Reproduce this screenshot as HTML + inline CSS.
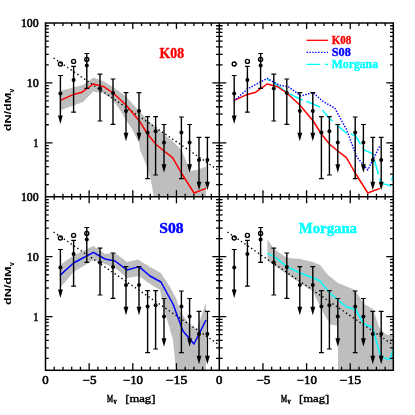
<!DOCTYPE html>
<html><head><meta charset="utf-8"><title>dN/dMV</title>
<style>html,body{margin:0;padding:0;background:#fff;width:415px;height:415px;overflow:hidden}
body{font-family:"Liberation Serif",serif;position:relative}</style></head>
<body>
<svg width="415" height="415" viewBox="0 0 415 415" style="position:absolute;left:0;top:0;will-change:transform">
<rect width="415" height="415" fill="#fff"/>
<defs>
<clipPath id="cTL"><rect x="45.5" y="23.0" width="173.8" height="173.8"/></clipPath>
<clipPath id="cTR"><rect x="219.3" y="23.0" width="174.0" height="173.8"/></clipPath>
<clipPath id="cBL"><rect x="45.5" y="196.8" width="173.8" height="173.5"/></clipPath>
<clipPath id="cBR"><rect x="219.3" y="196.8" width="174.0" height="173.5"/></clipPath>
</defs>
<g clip-path="url(#cTL)">
<polygon points="59.6,91.0 73.6,87.6 83.0,85.0 93.4,77.6 104.0,81.4 113.0,87.0 126.0,96.5 139.0,111.0 147.6,120.0 155.6,127.0 164.0,134.5 172.6,141.0 181.4,150.0 187.0,163.0 190.0,171.0 197.0,170.0 206.0,166.4 206.0,196.8 153.6,196.8 152.0,186.0 147.6,168.0 140.0,150.0 139.0,143.0 132.0,129.0 126.0,120.0 120.0,110.0 113.0,100.0 104.0,93.6 93.4,91.6 83.0,102.0 73.6,105.6 59.6,110.5" fill="#bebebe"/>
<polyline points="53.6,58.0 219.4,171.0" fill="none" stroke="#000" stroke-width="1.40" stroke-linejoin="round" stroke-dasharray="1.4 2.7"/>
<polyline points="60.4,100.4 73.6,94.4 82.0,92.2 93.4,84.0 104.0,86.8 113.0,93.0 126.0,105.0 139.4,121.0 147.6,134.0 155.6,144.0 164.0,151.0 172.6,157.6 181.4,173.0 194.0,193.0 206.0,188.4" fill="none" stroke="#ff0000" stroke-width="1.50" stroke-linejoin="round"/>
<path d="M60.4 75.5V117.9" stroke="#000" stroke-width="1.4"/>
<path d="M58.0 115.4L62.8 115.4L60.4 123.9Z" fill="#000"/>
<path d="M58.0 75.5H62.8" stroke="#000" stroke-width="1.2"/>
<circle cx="60.4" cy="93.6" r="2.0" fill="#000"/>
<circle cx="60.4" cy="64.0" r="2.0" fill="none" stroke="#000" stroke-width="1.4"/>
<path d="M73.6 66.4V112.2" stroke="#000" stroke-width="1.4"/>
<path d="M71.2 112.2H76.0" stroke="#000" stroke-width="1.2"/>
<path d="M71.2 66.4H76.0" stroke="#000" stroke-width="1.2"/>
<circle cx="73.6" cy="80.0" r="2.0" fill="#000"/>
<circle cx="73.6" cy="61.4" r="2.0" fill="none" stroke="#000" stroke-width="1.4"/>
<path d="M86.8 53.5V88.4" stroke="#000" stroke-width="1.4"/>
<path d="M84.4 88.4H89.2" stroke="#000" stroke-width="1.2"/>
<path d="M84.4 53.5H89.2" stroke="#000" stroke-width="1.2"/>
<circle cx="86.8" cy="65.5" r="2.0" fill="#000"/>
<circle cx="86.8" cy="59.4" r="2.0" fill="none" stroke="#000" stroke-width="1.4"/>
<path d="M100.0 74.2V121.0" stroke="#000" stroke-width="1.4"/>
<path d="M97.6 121.0H102.4" stroke="#000" stroke-width="1.2"/>
<path d="M97.6 74.2H102.4" stroke="#000" stroke-width="1.2"/>
<circle cx="100.0" cy="88.6" r="2.0" fill="#000"/>
<path d="M113.0 79.0V124.4" stroke="#000" stroke-width="1.4"/>
<path d="M110.6 124.4H115.4" stroke="#000" stroke-width="1.2"/>
<path d="M110.6 79.0H115.4" stroke="#000" stroke-width="1.2"/>
<circle cx="113.0" cy="93.0" r="2.0" fill="#000"/>
<path d="M126.0 92.6V135.3" stroke="#000" stroke-width="1.4"/>
<path d="M123.6 132.8L128.4 132.8L126.0 141.3Z" fill="#000"/>
<path d="M123.6 92.6H128.4" stroke="#000" stroke-width="1.2"/>
<circle cx="126.0" cy="111.0" r="2.0" fill="#000"/>
<path d="M139.0 92.6V135.3" stroke="#000" stroke-width="1.4"/>
<path d="M136.6 132.8L141.4 132.8L139.0 141.3Z" fill="#000"/>
<path d="M136.6 92.6H141.4" stroke="#000" stroke-width="1.2"/>
<circle cx="139.0" cy="111.0" r="2.0" fill="#000"/>
<path d="M147.6 116.6V178.6" stroke="#000" stroke-width="1.4"/>
<path d="M145.2 178.6H150.0" stroke="#000" stroke-width="1.2"/>
<path d="M145.2 116.6H150.0" stroke="#000" stroke-width="1.2"/>
<circle cx="147.6" cy="132.5" r="2.0" fill="#000"/>
<path d="M155.6 116.6V175.0" stroke="#000" stroke-width="1.4"/>
<path d="M153.2 175.0H158.0" stroke="#000" stroke-width="1.2"/>
<path d="M153.2 116.6H158.0" stroke="#000" stroke-width="1.2"/>
<circle cx="155.6" cy="131.2" r="2.0" fill="#000"/>
<path d="M164.0 124.5V166.7" stroke="#000" stroke-width="1.4"/>
<path d="M161.6 164.2L166.4 164.2L164.0 172.7Z" fill="#000"/>
<path d="M161.6 124.5H166.4" stroke="#000" stroke-width="1.2"/>
<circle cx="164.0" cy="142.4" r="2.0" fill="#000"/>
<path d="M181.4 117.0V178.6" stroke="#000" stroke-width="1.4"/>
<path d="M179.0 178.6H183.8" stroke="#000" stroke-width="1.2"/>
<path d="M179.0 117.0H183.8" stroke="#000" stroke-width="1.2"/>
<circle cx="181.4" cy="132.5" r="2.0" fill="#000"/>
<path d="M189.6 124.5V166.7" stroke="#000" stroke-width="1.4"/>
<path d="M187.2 164.2L192.0 164.2L189.6 172.7Z" fill="#000"/>
<path d="M187.2 124.5H192.0" stroke="#000" stroke-width="1.2"/>
<circle cx="189.6" cy="142.4" r="2.0" fill="#000"/>
<path d="M199.0 137.4V184.3" stroke="#000" stroke-width="1.4"/>
<path d="M196.6 181.8L201.4 181.8L199.0 190.3Z" fill="#000"/>
<path d="M196.6 137.4H201.4" stroke="#000" stroke-width="1.2"/>
<circle cx="199.0" cy="160.0" r="2.0" fill="#000"/>
<path d="M207.4 137.4V184.3" stroke="#000" stroke-width="1.4"/>
<path d="M205.0 181.8L209.8 181.8L207.4 190.3Z" fill="#000"/>
<path d="M205.0 137.4H209.8" stroke="#000" stroke-width="1.2"/>
<circle cx="207.4" cy="160.0" r="2.0" fill="#000"/>
</g>
<g clip-path="url(#cTR)">
<polyline points="267.4,79.4 274.0,82.6 287.0,92.6 300.0,99.0 313.0,104.0 320.0,107.0 329.0,118.0 338.0,126.0 346.5,133.0 355.4,135.5 364.0,150.0 372.5,153.5 380.0,180.0 383.0,183.6 390.0,185.6 393.3,175.0" fill="none" stroke="#00ffff" stroke-width="1.5" stroke-dasharray="14.9 4.0" stroke-dashoffset="11.8"/>
<polyline points="234.2,100.4 247.4,94.4 255.8,92.2 267.2,84.0 277.8,86.8 286.8,93.0 299.8,105.0 313.2,121.0 321.4,134.0 329.4,144.0 337.8,151.0 346.4,157.6 355.2,173.0 367.8,193.0 379.8,188.4" fill="none" stroke="#ff0000" stroke-width="1.50" stroke-linejoin="round"/>
<polyline points="233.8,101.4 247.4,89.0 267.2,78.4 278.8,85.0 288.8,87.0 300.8,96.0 312.8,92.6 323.8,102.0 334.8,108.0 341.8,121.0 346.8,130.0 350.8,141.0 356.8,157.0 367.8,170.0 379.8,146.0" fill="none" stroke="#0000ff" stroke-width="1.50" stroke-linejoin="round" stroke-dasharray="1.4 1.5"/>
<path d="M234.2 75.5V117.9" stroke="#000" stroke-width="1.4"/>
<path d="M231.8 115.4L236.6 115.4L234.2 123.9Z" fill="#000"/>
<path d="M231.8 75.5H236.6" stroke="#000" stroke-width="1.2"/>
<circle cx="234.2" cy="93.6" r="2.0" fill="#000"/>
<circle cx="234.2" cy="64.0" r="2.0" fill="none" stroke="#000" stroke-width="1.4"/>
<path d="M247.4 66.4V112.2" stroke="#000" stroke-width="1.4"/>
<path d="M245.0 112.2H249.8" stroke="#000" stroke-width="1.2"/>
<path d="M245.0 66.4H249.8" stroke="#000" stroke-width="1.2"/>
<circle cx="247.4" cy="80.0" r="2.0" fill="#000"/>
<circle cx="247.4" cy="61.4" r="2.0" fill="none" stroke="#000" stroke-width="1.4"/>
<path d="M260.6 53.5V88.4" stroke="#000" stroke-width="1.4"/>
<path d="M258.2 88.4H263.0" stroke="#000" stroke-width="1.2"/>
<path d="M258.2 53.5H263.0" stroke="#000" stroke-width="1.2"/>
<circle cx="260.6" cy="65.5" r="2.0" fill="#000"/>
<circle cx="260.6" cy="59.4" r="2.0" fill="none" stroke="#000" stroke-width="1.4"/>
<path d="M273.8 74.2V121.0" stroke="#000" stroke-width="1.4"/>
<path d="M271.4 121.0H276.2" stroke="#000" stroke-width="1.2"/>
<path d="M271.4 74.2H276.2" stroke="#000" stroke-width="1.2"/>
<circle cx="273.8" cy="88.6" r="2.0" fill="#000"/>
<path d="M286.8 79.0V124.4" stroke="#000" stroke-width="1.4"/>
<path d="M284.4 124.4H289.2" stroke="#000" stroke-width="1.2"/>
<path d="M284.4 79.0H289.2" stroke="#000" stroke-width="1.2"/>
<circle cx="286.8" cy="93.0" r="2.0" fill="#000"/>
<path d="M299.8 92.6V135.3" stroke="#000" stroke-width="1.4"/>
<path d="M297.4 132.8L302.2 132.8L299.8 141.3Z" fill="#000"/>
<path d="M297.4 92.6H302.2" stroke="#000" stroke-width="1.2"/>
<circle cx="299.8" cy="111.0" r="2.0" fill="#000"/>
<path d="M312.8 92.6V135.3" stroke="#000" stroke-width="1.4"/>
<path d="M310.4 132.8L315.2 132.8L312.8 141.3Z" fill="#000"/>
<path d="M310.4 92.6H315.2" stroke="#000" stroke-width="1.2"/>
<circle cx="312.8" cy="111.0" r="2.0" fill="#000"/>
<path d="M321.4 116.6V178.6" stroke="#000" stroke-width="1.4"/>
<path d="M319.0 178.6H323.8" stroke="#000" stroke-width="1.2"/>
<path d="M319.0 116.6H323.8" stroke="#000" stroke-width="1.2"/>
<circle cx="321.4" cy="132.5" r="2.0" fill="#000"/>
<path d="M329.4 116.6V175.0" stroke="#000" stroke-width="1.4"/>
<path d="M327.0 175.0H331.8" stroke="#000" stroke-width="1.2"/>
<path d="M327.0 116.6H331.8" stroke="#000" stroke-width="1.2"/>
<circle cx="329.4" cy="131.2" r="2.0" fill="#000"/>
<path d="M337.8 124.5V166.7" stroke="#000" stroke-width="1.4"/>
<path d="M335.4 164.2L340.2 164.2L337.8 172.7Z" fill="#000"/>
<path d="M335.4 124.5H340.2" stroke="#000" stroke-width="1.2"/>
<circle cx="337.8" cy="142.4" r="2.0" fill="#000"/>
<path d="M355.2 117.0V178.6" stroke="#000" stroke-width="1.4"/>
<path d="M352.8 178.6H357.6" stroke="#000" stroke-width="1.2"/>
<path d="M352.8 117.0H357.6" stroke="#000" stroke-width="1.2"/>
<circle cx="355.2" cy="132.5" r="2.0" fill="#000"/>
<path d="M363.4 124.5V166.7" stroke="#000" stroke-width="1.4"/>
<path d="M361.0 164.2L365.8 164.2L363.4 172.7Z" fill="#000"/>
<path d="M361.0 124.5H365.8" stroke="#000" stroke-width="1.2"/>
<circle cx="363.4" cy="142.4" r="2.0" fill="#000"/>
<path d="M372.8 137.4V184.3" stroke="#000" stroke-width="1.4"/>
<path d="M370.4 181.8L375.2 181.8L372.8 190.3Z" fill="#000"/>
<path d="M370.4 137.4H375.2" stroke="#000" stroke-width="1.2"/>
<circle cx="372.8" cy="160.0" r="2.0" fill="#000"/>
<path d="M381.2 137.4V184.3" stroke="#000" stroke-width="1.4"/>
<path d="M378.8 181.8L383.6 181.8L381.2 190.3Z" fill="#000"/>
<path d="M378.8 137.4H383.6" stroke="#000" stroke-width="1.2"/>
<circle cx="381.2" cy="160.0" r="2.0" fill="#000"/>
</g>
<g clip-path="url(#cBL)">
<polygon points="60.0,265.0 73.6,255.6 93.4,246.0 105.0,254.0 115.0,253.0 127.0,262.0 138.0,259.4 150.0,267.0 161.0,273.0 170.0,287.0 176.0,298.0 181.0,313.0 190.0,325.0 197.0,329.0 205.5,304.0 206.0,304.0 206.0,370.3 176.0,370.3 173.0,340.0 166.0,316.0 162.0,300.0 160.0,290.0 150.0,284.0 139.0,276.0 127.0,278.0 120.0,272.0 115.0,268.0 105.0,264.0 93.4,260.0 73.6,272.0 60.0,288.0" fill="#bebebe"/>
<polyline points="53.6,232.0 219.4,345.0" fill="none" stroke="#000" stroke-width="1.40" stroke-linejoin="round" stroke-dasharray="1.4 2.7"/>
<polyline points="60.0,275.4 73.6,263.0 93.4,252.4 105.0,259.0 115.0,261.0 127.0,270.0 139.0,266.6 150.0,276.0 161.0,282.0 168.0,295.0 173.0,304.0 177.0,315.0 183.0,331.0 194.0,344.0 206.0,320.0" fill="none" stroke="#0000ff" stroke-width="1.50" stroke-linejoin="round"/>
<path d="M60.4 249.5V291.9" stroke="#000" stroke-width="1.4"/>
<path d="M58.0 289.4L62.8 289.4L60.4 297.9Z" fill="#000"/>
<path d="M58.0 249.5H62.8" stroke="#000" stroke-width="1.2"/>
<circle cx="60.4" cy="267.6" r="2.0" fill="#000"/>
<circle cx="60.4" cy="238.0" r="2.0" fill="none" stroke="#000" stroke-width="1.4"/>
<path d="M73.6 240.4V286.2" stroke="#000" stroke-width="1.4"/>
<path d="M71.2 286.2H76.0" stroke="#000" stroke-width="1.2"/>
<path d="M71.2 240.4H76.0" stroke="#000" stroke-width="1.2"/>
<circle cx="73.6" cy="254.0" r="2.0" fill="#000"/>
<circle cx="73.6" cy="235.4" r="2.0" fill="none" stroke="#000" stroke-width="1.4"/>
<path d="M86.8 227.5V262.4" stroke="#000" stroke-width="1.4"/>
<path d="M84.4 262.4H89.2" stroke="#000" stroke-width="1.2"/>
<path d="M84.4 227.5H89.2" stroke="#000" stroke-width="1.2"/>
<circle cx="86.8" cy="239.5" r="2.0" fill="#000"/>
<circle cx="86.8" cy="233.4" r="2.0" fill="none" stroke="#000" stroke-width="1.4"/>
<path d="M100.0 248.2V295.0" stroke="#000" stroke-width="1.4"/>
<path d="M97.6 295.0H102.4" stroke="#000" stroke-width="1.2"/>
<path d="M97.6 248.2H102.4" stroke="#000" stroke-width="1.2"/>
<circle cx="100.0" cy="262.6" r="2.0" fill="#000"/>
<path d="M113.0 253.0V298.4" stroke="#000" stroke-width="1.4"/>
<path d="M110.6 298.4H115.4" stroke="#000" stroke-width="1.2"/>
<path d="M110.6 253.0H115.4" stroke="#000" stroke-width="1.2"/>
<circle cx="113.0" cy="267.0" r="2.0" fill="#000"/>
<path d="M126.0 266.6V309.3" stroke="#000" stroke-width="1.4"/>
<path d="M123.6 306.8L128.4 306.8L126.0 315.3Z" fill="#000"/>
<path d="M123.6 266.6H128.4" stroke="#000" stroke-width="1.2"/>
<circle cx="126.0" cy="285.0" r="2.0" fill="#000"/>
<path d="M139.0 266.6V309.3" stroke="#000" stroke-width="1.4"/>
<path d="M136.6 306.8L141.4 306.8L139.0 315.3Z" fill="#000"/>
<path d="M136.6 266.6H141.4" stroke="#000" stroke-width="1.2"/>
<circle cx="139.0" cy="285.0" r="2.0" fill="#000"/>
<path d="M147.6 290.6V352.6" stroke="#000" stroke-width="1.4"/>
<path d="M145.2 352.6H150.0" stroke="#000" stroke-width="1.2"/>
<path d="M145.2 290.6H150.0" stroke="#000" stroke-width="1.2"/>
<circle cx="147.6" cy="306.5" r="2.0" fill="#000"/>
<path d="M155.6 290.6V349.0" stroke="#000" stroke-width="1.4"/>
<path d="M153.2 349.0H158.0" stroke="#000" stroke-width="1.2"/>
<path d="M153.2 290.6H158.0" stroke="#000" stroke-width="1.2"/>
<circle cx="155.6" cy="305.2" r="2.0" fill="#000"/>
<path d="M164.0 298.5V340.7" stroke="#000" stroke-width="1.4"/>
<path d="M161.6 338.2L166.4 338.2L164.0 346.7Z" fill="#000"/>
<path d="M161.6 298.5H166.4" stroke="#000" stroke-width="1.2"/>
<circle cx="164.0" cy="316.4" r="2.0" fill="#000"/>
<path d="M181.4 291.0V352.6" stroke="#000" stroke-width="1.4"/>
<path d="M179.0 352.6H183.8" stroke="#000" stroke-width="1.2"/>
<path d="M179.0 291.0H183.8" stroke="#000" stroke-width="1.2"/>
<circle cx="181.4" cy="306.5" r="2.0" fill="#000"/>
<path d="M189.6 298.5V340.7" stroke="#000" stroke-width="1.4"/>
<path d="M187.2 338.2L192.0 338.2L189.6 346.7Z" fill="#000"/>
<path d="M187.2 298.5H192.0" stroke="#000" stroke-width="1.2"/>
<circle cx="189.6" cy="316.4" r="2.0" fill="#000"/>
<path d="M199.0 311.4V358.3" stroke="#000" stroke-width="1.4"/>
<path d="M196.6 355.8L201.4 355.8L199.0 364.3Z" fill="#000"/>
<path d="M196.6 311.4H201.4" stroke="#000" stroke-width="1.2"/>
<circle cx="199.0" cy="334.0" r="2.0" fill="#000"/>
<path d="M207.4 311.4V358.3" stroke="#000" stroke-width="1.4"/>
<path d="M205.0 355.8L209.8 355.8L207.4 364.3Z" fill="#000"/>
<path d="M205.0 311.4H209.8" stroke="#000" stroke-width="1.2"/>
<circle cx="207.4" cy="334.0" r="2.0" fill="#000"/>
</g>
<g clip-path="url(#cBR)">
<polygon points="267.4,239.4 274.0,249.0 287.0,258.0 300.0,259.0 313.0,262.0 320.0,265.0 328.0,275.0 338.0,283.0 346.5,286.5 355.0,290.0 364.0,304.0 373.0,309.0 379.0,327.0 385.0,334.0 393.3,336.0 393.3,370.3 338.0,370.3 338.0,325.6 331.0,325.0 325.0,316.0 321.0,308.0 315.0,296.0 313.0,291.0 300.0,283.0 287.0,274.0 274.0,265.0 267.4,261.0" fill="#bebebe"/>
<polyline points="227.4,232.0 393.2,345.0" fill="none" stroke="#000" stroke-width="1.40" stroke-linejoin="round" stroke-dasharray="1.4 2.7"/>
<polyline points="267.4,253.4 274.0,256.6 287.0,266.6 300.0,273.0 313.0,278.0 320.0,281.0 329.0,292.0 338.0,300.0 346.5,307.0 355.4,309.5 364.0,324.0 372.5,327.5 380.0,354.0 383.0,357.6 390.0,359.6 393.3,349.0" fill="none" stroke="#00ffff" stroke-width="1.50" stroke-linejoin="round"/>
<path d="M234.2 249.5V291.9" stroke="#000" stroke-width="1.4"/>
<path d="M231.8 289.4L236.6 289.4L234.2 297.9Z" fill="#000"/>
<path d="M231.8 249.5H236.6" stroke="#000" stroke-width="1.2"/>
<circle cx="234.2" cy="267.6" r="2.0" fill="#000"/>
<circle cx="234.2" cy="238.0" r="2.0" fill="none" stroke="#000" stroke-width="1.4"/>
<path d="M247.4 240.4V286.2" stroke="#000" stroke-width="1.4"/>
<path d="M245.0 286.2H249.8" stroke="#000" stroke-width="1.2"/>
<path d="M245.0 240.4H249.8" stroke="#000" stroke-width="1.2"/>
<circle cx="247.4" cy="254.0" r="2.0" fill="#000"/>
<circle cx="247.4" cy="235.4" r="2.0" fill="none" stroke="#000" stroke-width="1.4"/>
<path d="M260.6 227.5V262.4" stroke="#000" stroke-width="1.4"/>
<path d="M258.2 262.4H263.0" stroke="#000" stroke-width="1.2"/>
<path d="M258.2 227.5H263.0" stroke="#000" stroke-width="1.2"/>
<circle cx="260.6" cy="239.5" r="2.0" fill="#000"/>
<circle cx="260.6" cy="233.4" r="2.0" fill="none" stroke="#000" stroke-width="1.4"/>
<path d="M273.8 248.2V295.0" stroke="#000" stroke-width="1.4"/>
<path d="M271.4 295.0H276.2" stroke="#000" stroke-width="1.2"/>
<path d="M271.4 248.2H276.2" stroke="#000" stroke-width="1.2"/>
<circle cx="273.8" cy="262.6" r="2.0" fill="#000"/>
<path d="M286.8 253.0V298.4" stroke="#000" stroke-width="1.4"/>
<path d="M284.4 298.4H289.2" stroke="#000" stroke-width="1.2"/>
<path d="M284.4 253.0H289.2" stroke="#000" stroke-width="1.2"/>
<circle cx="286.8" cy="267.0" r="2.0" fill="#000"/>
<path d="M299.8 266.6V309.3" stroke="#000" stroke-width="1.4"/>
<path d="M297.4 306.8L302.2 306.8L299.8 315.3Z" fill="#000"/>
<path d="M297.4 266.6H302.2" stroke="#000" stroke-width="1.2"/>
<circle cx="299.8" cy="285.0" r="2.0" fill="#000"/>
<path d="M312.8 266.6V309.3" stroke="#000" stroke-width="1.4"/>
<path d="M310.4 306.8L315.2 306.8L312.8 315.3Z" fill="#000"/>
<path d="M310.4 266.6H315.2" stroke="#000" stroke-width="1.2"/>
<circle cx="312.8" cy="285.0" r="2.0" fill="#000"/>
<path d="M321.4 290.6V352.6" stroke="#000" stroke-width="1.4"/>
<path d="M319.0 352.6H323.8" stroke="#000" stroke-width="1.2"/>
<path d="M319.0 290.6H323.8" stroke="#000" stroke-width="1.2"/>
<circle cx="321.4" cy="306.5" r="2.0" fill="#000"/>
<path d="M329.4 290.6V349.0" stroke="#000" stroke-width="1.4"/>
<path d="M327.0 349.0H331.8" stroke="#000" stroke-width="1.2"/>
<path d="M327.0 290.6H331.8" stroke="#000" stroke-width="1.2"/>
<circle cx="329.4" cy="305.2" r="2.0" fill="#000"/>
<path d="M337.8 298.5V340.7" stroke="#000" stroke-width="1.4"/>
<path d="M335.4 338.2L340.2 338.2L337.8 346.7Z" fill="#000"/>
<path d="M335.4 298.5H340.2" stroke="#000" stroke-width="1.2"/>
<circle cx="337.8" cy="316.4" r="2.0" fill="#000"/>
<path d="M355.2 291.0V352.6" stroke="#000" stroke-width="1.4"/>
<path d="M352.8 352.6H357.6" stroke="#000" stroke-width="1.2"/>
<path d="M352.8 291.0H357.6" stroke="#000" stroke-width="1.2"/>
<circle cx="355.2" cy="306.5" r="2.0" fill="#000"/>
<path d="M363.4 298.5V340.7" stroke="#000" stroke-width="1.4"/>
<path d="M361.0 338.2L365.8 338.2L363.4 346.7Z" fill="#000"/>
<path d="M361.0 298.5H365.8" stroke="#000" stroke-width="1.2"/>
<circle cx="363.4" cy="316.4" r="2.0" fill="#000"/>
<path d="M372.8 311.4V358.3" stroke="#000" stroke-width="1.4"/>
<path d="M370.4 355.8L375.2 355.8L372.8 364.3Z" fill="#000"/>
<path d="M370.4 311.4H375.2" stroke="#000" stroke-width="1.2"/>
<circle cx="372.8" cy="334.0" r="2.0" fill="#000"/>
<path d="M381.2 311.4V358.3" stroke="#000" stroke-width="1.4"/>
<path d="M378.8 355.8L383.6 355.8L381.2 364.3Z" fill="#000"/>
<path d="M378.8 311.4H383.6" stroke="#000" stroke-width="1.2"/>
<circle cx="381.2" cy="334.0" r="2.0" fill="#000"/>
</g>
<g stroke="#000" stroke-width="1.5" fill="none" stroke-linecap="butt">
<rect x="45.5" y="23.0" width="347.8" height="347.3"/>
<path d="M219.3 23.0V370.3 M45.5 196.8H393.3"/>
<path d="M54.23 23.0v3.0 M54.23 193.8v6.0 M54.23 370.3v-3.5 M62.96 23.0v3.0 M62.96 193.8v6.0 M62.96 370.3v-3.5 M71.69 23.0v3.0 M71.69 193.8v6.0 M71.69 370.3v-3.5 M80.42 23.0v3.0 M80.42 193.8v6.0 M80.42 370.3v-3.5 M89.15 23.0v6.0 M89.15 190.3v13.0 M89.15 370.3v-7.0 M97.88 23.0v3.0 M97.88 193.8v6.0 M97.88 370.3v-3.5 M106.61 23.0v3.0 M106.61 193.8v6.0 M106.61 370.3v-3.5 M115.34 23.0v3.0 M115.34 193.8v6.0 M115.34 370.3v-3.5 M124.07 23.0v3.0 M124.07 193.8v6.0 M124.07 370.3v-3.5 M132.80 23.0v6.0 M132.80 190.3v13.0 M132.80 370.3v-7.0 M141.53 23.0v3.0 M141.53 193.8v6.0 M141.53 370.3v-3.5 M150.26 23.0v3.0 M150.26 193.8v6.0 M150.26 370.3v-3.5 M158.99 23.0v3.0 M158.99 193.8v6.0 M158.99 370.3v-3.5 M167.72 23.0v3.0 M167.72 193.8v6.0 M167.72 370.3v-3.5 M176.45 23.0v6.0 M176.45 190.3v13.0 M176.45 370.3v-7.0 M185.18 23.0v3.0 M185.18 193.8v6.0 M185.18 370.3v-3.5 M193.91 23.0v3.0 M193.91 193.8v6.0 M193.91 370.3v-3.5 M202.64 23.0v3.0 M202.64 193.8v6.0 M202.64 370.3v-3.5 M211.37 23.0v3.0 M211.37 193.8v6.0 M211.37 370.3v-3.5 M228.03 23.0v3.0 M228.03 193.8v6.0 M228.03 370.3v-3.5 M236.76 23.0v3.0 M236.76 193.8v6.0 M236.76 370.3v-3.5 M245.49 23.0v3.0 M245.49 193.8v6.0 M245.49 370.3v-3.5 M254.22 23.0v3.0 M254.22 193.8v6.0 M254.22 370.3v-3.5 M262.95 23.0v6.0 M262.95 190.3v13.0 M262.95 370.3v-7.0 M271.68 23.0v3.0 M271.68 193.8v6.0 M271.68 370.3v-3.5 M280.41 23.0v3.0 M280.41 193.8v6.0 M280.41 370.3v-3.5 M289.14 23.0v3.0 M289.14 193.8v6.0 M289.14 370.3v-3.5 M297.87 23.0v3.0 M297.87 193.8v6.0 M297.87 370.3v-3.5 M306.60 23.0v6.0 M306.60 190.3v13.0 M306.60 370.3v-7.0 M315.33 23.0v3.0 M315.33 193.8v6.0 M315.33 370.3v-3.5 M324.06 23.0v3.0 M324.06 193.8v6.0 M324.06 370.3v-3.5 M332.79 23.0v3.0 M332.79 193.8v6.0 M332.79 370.3v-3.5 M341.52 23.0v3.0 M341.52 193.8v6.0 M341.52 370.3v-3.5 M350.25 23.0v6.0 M350.25 190.3v13.0 M350.25 370.3v-7.0 M358.98 23.0v3.0 M358.98 193.8v6.0 M358.98 370.3v-3.5 M367.71 23.0v3.0 M367.71 193.8v6.0 M367.71 370.3v-3.5 M376.44 23.0v3.0 M376.44 193.8v6.0 M376.44 370.3v-3.5 M385.17 23.0v3.0 M385.17 193.8v6.0 M385.17 370.3v-3.5 M45.5 82.90h7.0 M212.3 82.90h14.0 M393.3 82.90h-7.0 M45.5 64.87h3.3 M216.0 64.87h6.6 M393.3 64.87h-3.3 M45.5 54.32h3.3 M216.0 54.32h6.6 M393.3 54.32h-3.3 M45.5 46.84h3.3 M216.0 46.84h6.6 M393.3 46.84h-3.3 M45.5 41.03h3.3 M216.0 41.03h6.6 M393.3 41.03h-3.3 M45.5 36.29h3.3 M216.0 36.29h6.6 M393.3 36.29h-3.3 M45.5 32.28h3.3 M216.0 32.28h6.6 M393.3 32.28h-3.3 M45.5 28.80h3.3 M216.0 28.80h6.6 M393.3 28.80h-3.3 M45.5 25.74h3.3 M216.0 25.74h6.6 M393.3 25.74h-3.3 M45.5 142.80h7.0 M212.3 142.80h14.0 M393.3 142.80h-7.0 M45.5 124.77h3.3 M216.0 124.77h6.6 M393.3 124.77h-3.3 M45.5 114.22h3.3 M216.0 114.22h6.6 M393.3 114.22h-3.3 M45.5 106.74h3.3 M216.0 106.74h6.6 M393.3 106.74h-3.3 M45.5 100.93h3.3 M216.0 100.93h6.6 M393.3 100.93h-3.3 M45.5 96.19h3.3 M216.0 96.19h6.6 M393.3 96.19h-3.3 M45.5 92.18h3.3 M216.0 92.18h6.6 M393.3 92.18h-3.3 M45.5 88.70h3.3 M216.0 88.70h6.6 M393.3 88.70h-3.3 M45.5 85.64h3.3 M216.0 85.64h6.6 M393.3 85.64h-3.3 M45.5 184.67h3.3 M216.0 184.67h6.6 M393.3 184.67h-3.3 M45.5 174.12h3.3 M216.0 174.12h6.6 M393.3 174.12h-3.3 M45.5 166.64h3.3 M216.0 166.64h6.6 M393.3 166.64h-3.3 M45.5 160.83h3.3 M216.0 160.83h6.6 M393.3 160.83h-3.3 M45.5 156.09h3.3 M216.0 156.09h6.6 M393.3 156.09h-3.3 M45.5 152.08h3.3 M216.0 152.08h6.6 M393.3 152.08h-3.3 M45.5 148.60h3.3 M216.0 148.60h6.6 M393.3 148.60h-3.3 M45.5 145.54h3.3 M216.0 145.54h6.6 M393.3 145.54h-3.3 M45.5 256.70h7.0 M212.3 256.70h14.0 M393.3 256.70h-7.0 M45.5 238.67h3.3 M216.0 238.67h6.6 M393.3 238.67h-3.3 M45.5 228.12h3.3 M216.0 228.12h6.6 M393.3 228.12h-3.3 M45.5 220.64h3.3 M216.0 220.64h6.6 M393.3 220.64h-3.3 M45.5 214.83h3.3 M216.0 214.83h6.6 M393.3 214.83h-3.3 M45.5 210.09h3.3 M216.0 210.09h6.6 M393.3 210.09h-3.3 M45.5 206.08h3.3 M216.0 206.08h6.6 M393.3 206.08h-3.3 M45.5 202.60h3.3 M216.0 202.60h6.6 M393.3 202.60h-3.3 M45.5 199.54h3.3 M216.0 199.54h6.6 M393.3 199.54h-3.3 M45.5 316.60h7.0 M212.3 316.60h14.0 M393.3 316.60h-7.0 M45.5 298.57h3.3 M216.0 298.57h6.6 M393.3 298.57h-3.3 M45.5 288.02h3.3 M216.0 288.02h6.6 M393.3 288.02h-3.3 M45.5 280.54h3.3 M216.0 280.54h6.6 M393.3 280.54h-3.3 M45.5 274.73h3.3 M216.0 274.73h6.6 M393.3 274.73h-3.3 M45.5 269.99h3.3 M216.0 269.99h6.6 M393.3 269.99h-3.3 M45.5 265.98h3.3 M216.0 265.98h6.6 M393.3 265.98h-3.3 M45.5 262.50h3.3 M216.0 262.50h6.6 M393.3 262.50h-3.3 M45.5 259.44h3.3 M216.0 259.44h6.6 M393.3 259.44h-3.3 M45.5 358.47h3.3 M216.0 358.47h6.6 M393.3 358.47h-3.3 M45.5 347.92h3.3 M216.0 347.92h6.6 M393.3 347.92h-3.3 M45.5 340.44h3.3 M216.0 340.44h6.6 M393.3 340.44h-3.3 M45.5 334.63h3.3 M216.0 334.63h6.6 M393.3 334.63h-3.3 M45.5 329.89h3.3 M216.0 329.89h6.6 M393.3 329.89h-3.3 M45.5 325.88h3.3 M216.0 325.88h6.6 M393.3 325.88h-3.3 M45.5 322.40h3.3 M216.0 322.40h6.6 M393.3 322.40h-3.3 M45.5 319.34h3.3 M216.0 319.34h6.6 M393.3 319.34h-3.3" stroke-width="1.3"/>
</g>
<text x="20.9" y="26.8" font-size="11.5" textLength="17.7" lengthAdjust="spacingAndGlyphs" fill="#000" stroke="#000" stroke-width="0.55" font-weight="normal" font-family="Liberation Serif, serif">100</text>
<text x="26.8" y="86.8" font-size="11.5" textLength="12.0" lengthAdjust="spacingAndGlyphs" fill="#000" stroke="#000" stroke-width="0.55" font-weight="normal" font-family="Liberation Serif, serif">10</text>
<text x="33.2" y="146.8" font-size="11.5" textLength="5.2" lengthAdjust="spacingAndGlyphs" fill="#000" stroke="#000" stroke-width="0.55" font-weight="normal" font-family="Liberation Serif, serif">1</text>
<text x="20.9" y="200.6" font-size="11.5" textLength="17.7" lengthAdjust="spacingAndGlyphs" fill="#000" stroke="#000" stroke-width="0.55" font-weight="normal" font-family="Liberation Serif, serif">100</text>
<text x="26.8" y="260.6" font-size="11.5" textLength="12.0" lengthAdjust="spacingAndGlyphs" fill="#000" stroke="#000" stroke-width="0.55" font-weight="normal" font-family="Liberation Serif, serif">10</text>
<text x="33.2" y="320.6" font-size="11.5" textLength="5.2" lengthAdjust="spacingAndGlyphs" fill="#000" stroke="#000" stroke-width="0.55" font-weight="normal" font-family="Liberation Serif, serif">1</text>
<text x="42.3" y="384.4" font-size="11.5" textLength="6.4" lengthAdjust="spacingAndGlyphs" fill="#000" stroke="#000" stroke-width="0.55" font-weight="normal" font-family="Liberation Serif, serif">0</text>
<text x="82.6" y="384.4" font-size="11.5" textLength="14.0" lengthAdjust="spacingAndGlyphs" fill="#000" stroke="#000" stroke-width="0.55" font-weight="normal" font-family="Liberation Serif, serif">−5</text>
<text x="123.0" y="384.4" font-size="11.5" textLength="20.0" lengthAdjust="spacingAndGlyphs" fill="#000" stroke="#000" stroke-width="0.55" font-weight="normal" font-family="Liberation Serif, serif">−10</text>
<text x="165.8" y="384.4" font-size="11.5" textLength="21.6" lengthAdjust="spacingAndGlyphs" fill="#000" stroke="#000" stroke-width="0.55" font-weight="normal" font-family="Liberation Serif, serif">−15</text>
<text x="107.1" y="401.6" font-size="10.0" textLength="6.1" lengthAdjust="spacingAndGlyphs" fill="#000" stroke="#000" stroke-width="0.55" font-weight="normal" font-family="Liberation Serif, serif">M</text>
<text x="113.6" y="403.6" font-size="7.5" textLength="3.2" lengthAdjust="spacingAndGlyphs" fill="#000" stroke="#000" stroke-width="0.50" font-weight="normal" font-family="Liberation Serif, serif">v</text>
<text x="125.2" y="401.6" font-size="11.0" textLength="30.2" lengthAdjust="spacingAndGlyphs" fill="#000" stroke="#000" stroke-width="0.40" font-weight="normal" font-family="Liberation Serif, serif">[mag]</text>
<text x="216.1" y="384.4" font-size="11.5" textLength="6.4" lengthAdjust="spacingAndGlyphs" fill="#000" stroke="#000" stroke-width="0.55" font-weight="normal" font-family="Liberation Serif, serif">0</text>
<text x="256.4" y="384.4" font-size="11.5" textLength="14.0" lengthAdjust="spacingAndGlyphs" fill="#000" stroke="#000" stroke-width="0.55" font-weight="normal" font-family="Liberation Serif, serif">−5</text>
<text x="296.8" y="384.4" font-size="11.5" textLength="20.0" lengthAdjust="spacingAndGlyphs" fill="#000" stroke="#000" stroke-width="0.55" font-weight="normal" font-family="Liberation Serif, serif">−10</text>
<text x="339.6" y="384.4" font-size="11.5" textLength="21.6" lengthAdjust="spacingAndGlyphs" fill="#000" stroke="#000" stroke-width="0.55" font-weight="normal" font-family="Liberation Serif, serif">−15</text>
<text x="280.9" y="401.6" font-size="10.0" textLength="6.1" lengthAdjust="spacingAndGlyphs" fill="#000" stroke="#000" stroke-width="0.55" font-weight="normal" font-family="Liberation Serif, serif">M</text>
<text x="287.4" y="403.6" font-size="7.5" textLength="3.2" lengthAdjust="spacingAndGlyphs" fill="#000" stroke="#000" stroke-width="0.50" font-weight="normal" font-family="Liberation Serif, serif">v</text>
<text x="299.0" y="401.6" font-size="11.0" textLength="30.2" lengthAdjust="spacingAndGlyphs" fill="#000" stroke="#000" stroke-width="0.40" font-weight="normal" font-family="Liberation Serif, serif">[mag]</text>
<g transform="translate(11.3 109.9) rotate(-90)" font-family="Liberation Sans, sans-serif" font-weight="bold" fill="#000">
<text x="-21.4" y="0" font-size="9" textLength="38.6" lengthAdjust="spacingAndGlyphs">dN/dM</text>
<text x="17.5" y="2.4" font-size="6.5" textLength="3.8" lengthAdjust="spacingAndGlyphs">v</text>
</g>
<g transform="translate(11.3 283.6) rotate(-90)" font-family="Liberation Sans, sans-serif" font-weight="bold" fill="#000">
<text x="-21.4" y="0" font-size="9" textLength="38.6" lengthAdjust="spacingAndGlyphs">dN/dM</text>
<text x="17.5" y="2.4" font-size="6.5" textLength="3.8" lengthAdjust="spacingAndGlyphs">v</text>
</g>
<text x="159.6" y="58.4" font-size="14.0" textLength="24.4" lengthAdjust="spacingAndGlyphs" fill="#ff0000" stroke="#ff0000" stroke-width="0.40" font-weight="bold" font-family="Liberation Serif, serif">K08</text>
<text x="159.2" y="232.8" font-size="14.0" textLength="24.4" lengthAdjust="spacingAndGlyphs" fill="#0000ff" stroke="#0000ff" stroke-width="0.40" font-weight="bold" font-family="Liberation Serif, serif">S08</text>
<text x="298.8" y="232.8" font-size="14.0" textLength="58.2" lengthAdjust="spacingAndGlyphs" fill="#00ffff" stroke="#00ffff" stroke-width="0.40" font-weight="bold" font-family="Liberation Serif, serif">Morgana</text>
<path d="M306.5 40.3H328.2" stroke="#ff0000" stroke-width="1.3"/>
<path d="M306.5 52.3H328" stroke="#0000ff" stroke-width="1.3" stroke-dasharray="1.4 1.5"/>
<path d="M306.5 64.3H320.2M324.9 64.3H328.2" stroke="#00ffff" stroke-width="1.3"/>
<text x="331.7" y="43.6" font-size="11.5" textLength="19.6" lengthAdjust="spacingAndGlyphs" fill="#ff0000" stroke="#ff0000" stroke-width="0.35" font-weight="bold" font-family="Liberation Serif, serif">K08</text>
<text x="331.7" y="55.9" font-size="11.5" textLength="19.2" lengthAdjust="spacingAndGlyphs" fill="#0000ff" stroke="#0000ff" stroke-width="0.35" font-weight="bold" font-family="Liberation Serif, serif">S08</text>
<text x="331.8" y="67.8" font-size="11.5" textLength="46.2" lengthAdjust="spacingAndGlyphs" fill="#00ffff" stroke="#00ffff" stroke-width="0.35" font-weight="bold" font-family="Liberation Serif, serif">Morgana</text>
</svg>
</body></html>
